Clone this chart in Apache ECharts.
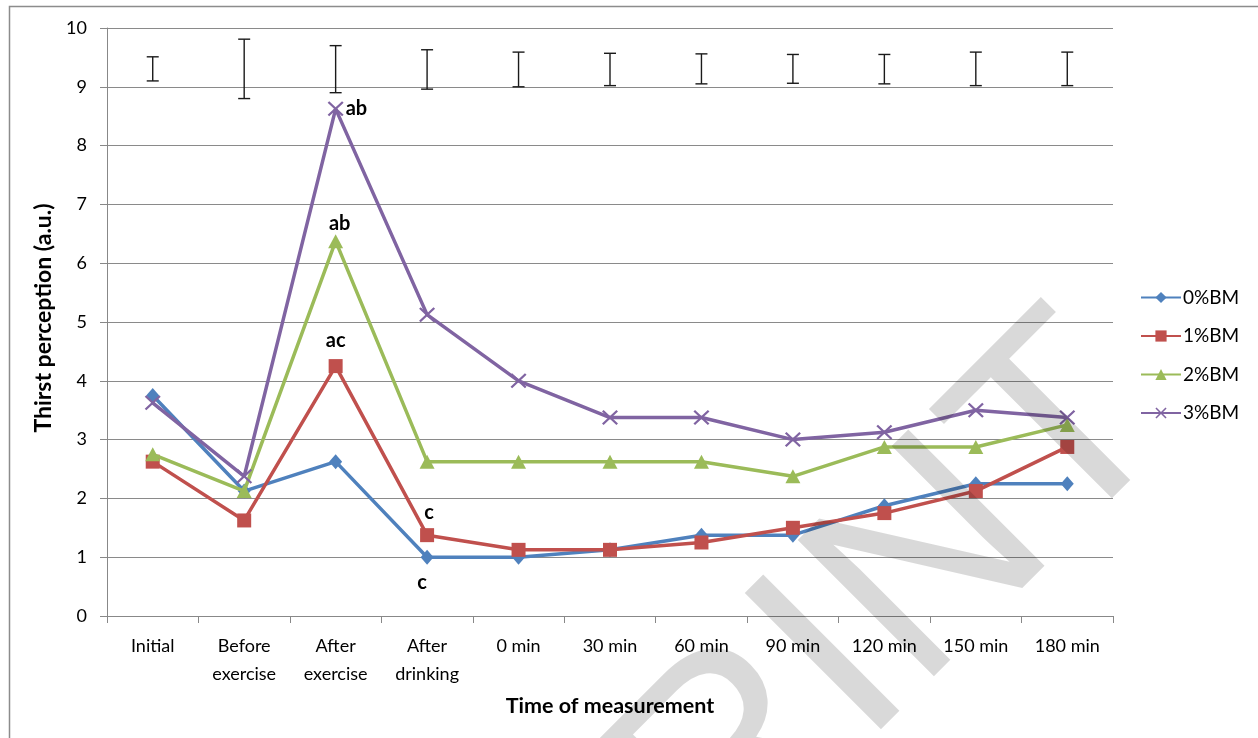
<!DOCTYPE html>
<html>
<head>
<meta charset="utf-8">
<script src="https://cdn.jsdelivr.net/npm/echarts@6/dist/echarts.min.js"></script>
<style>
html,body{margin:0;padding:0;background:#fff;}
#chart{width:1258px;height:738px;}
</style>
</head>
<body>
<div id="chart"></div>
<script>
// ---- data ----
const categories = ['Initial', 'Before\nexercise', 'After\nexercise', 'After\ndrinking', '0 min', '30 min', '60 min', '90 min', '120 min', '150 min', '180 min'];
const seriesNames = ['0%BM', '1%BM', '2%BM', '3%BM'];
const bm0 = [3.75, 2.125, 2.625, 1.0, 1.0, 1.125, 1.375, 1.375, 1.875, 2.25, 2.25];
const bm1 = [2.625, 1.625, 4.25, 1.375, 1.125, 1.125, 1.25, 1.5, 1.75, 2.125, 2.875];
const bm2 = [2.75, 2.125, 6.375, 2.625, 2.625, 2.625, 2.625, 2.375, 2.875, 2.875, 3.25];
const bm3 = [3.625, 2.375, 8.625, 5.125, 4.0, 3.375, 3.375, 3.0, 3.125, 3.5, 3.375];
const errLow  = [9.10, 8.80, 8.90, 8.96, 9.00, 9.02, 9.05, 9.06, 9.05, 9.02, 9.02];
const errHigh = [9.51, 9.81, 9.70, 9.63, 9.59, 9.57, 9.56, 9.55, 9.55, 9.59, 9.59];
// significance letters: [series index, category index, text]
const annotations = [[3, 2, 'ab'], [2, 2, 'ab'], [1, 2, 'ac'], [1, 3, 'c'], [0, 3, 'c']];
const yMin = 0, yMax = 10, yStep = 1;

// ---- styles ----
const FONT = 'Lato';
const colors = ['#4F81BD', '#C0504D', '#9BBB59', '#8064A2'];
const symbols = ['diamond', 'rect', 'triangle',
  'path://M0,1L1,0L5,4L9,0L10,1L6,5L10,9L9,10L5,6L1,10L0,9L4,5Z'];
const symbolSizes = [[13, 15], 14, [15, 14], [16, 15]];
// placement of each annotation (same order as annotations)
const annoPlace = [
  {position: 'right', distance: 2, offset: [0, 0]},
  {position: 'top', distance: 1, offset: [4, 0]},
  {position: 'top', distance: 9, offset: [0, 0]},
  {position: 'top', distance: 6, offset: [2, 0]},
  {position: 'bottom', distance: 8, offset: [-5, 0]}
];
const allValues = [bm0, bm1, bm2, bm3];

const lineSeries = allValues.map((vals, s) => ({
  name: seriesNames[s],
  type: 'line',
  data: vals.map((v, i) => {
    const k = annotations.findIndex(x => x[0] === s && x[1] === i);
    if (k < 0) return v;
    const p = annoPlace[k];
    return {value: v, label: {show: true, formatter: annotations[k][2], position: p.position, distance: p.distance, offset: p.offset,
      fontFamily: FONT, fontWeight: 'bold', fontSize: 20, color: '#000'}};
  }),
  symbol: symbols[s],
  symbolSize: symbolSizes[s],
  showSymbol: true,
  lineStyle: {color: colors[s], width: 3.5},
  itemStyle: {color: colors[s]},
  z: 3 + s,
  emphasis: {disabled: true}
}));

const errSeries = {
  name: 'err',
  type: 'custom',
  data: categories.map((c, i) => [i, errLow[i], errHigh[i]]),
  encode: {x: 0, y: [1, 2]},
  renderItem: function (params, api) {
    const x = api.value(0);
    const lo = api.coord([x, api.value(1)]);
    const hi = api.coord([x, api.value(2)]);
    const w = 6;
    const st = {stroke: '#1a1a1a', lineWidth: 1.4};
    return {type: 'group', children: [
      {type: 'line', shape: {x1: lo[0], y1: lo[1], x2: hi[0], y2: hi[1]}, style: st},
      {type: 'line', shape: {x1: hi[0] - w, y1: hi[1], x2: hi[0] + w, y2: hi[1]}, style: st},
      {type: 'line', shape: {x1: lo[0] - w, y1: lo[1], x2: lo[0] + w, y2: lo[1]}, style: st}
    ]};
  },
  z: 2,
  silent: true
};

const chart = echarts.init(document.getElementById('chart'), null, {renderer: 'canvas'});
chart.setOption({
  animation: false,
  backgroundColor: '#fff',
  textStyle: {fontFamily: FONT},
  grid: {left: 107, right: 145, top: 28, bottom: 122, containLabel: false},
  legend: {
    data: seriesNames,
    orient: 'vertical',
    left: 1140,
    top: 288,
    padding: 0,
    itemWidth: 40,
    itemHeight: 14,
    itemGap: 19.5,
    textStyle: {fontFamily: FONT, fontSize: 19, color: '#000', padding: [0, 0, 0, -3]},
    selectedMode: false
  },
  xAxis: {
    type: 'category',
    data: categories,
    boundaryGap: true,
    axisLine: {lineStyle: {color: '#888', width: 1}},
    axisTick: {show: true, length: 7, lineStyle: {color: '#888'}},
    axisLabel: {fontFamily: FONT, fontSize: 18, color: '#000', margin: 16, lineHeight: 28, interval: 0},
    name: 'Time of measurement',
    nameLocation: 'middle',
    nameGap: 79,
    nameTextStyle: {fontFamily: FONT, fontSize: 21.5, fontWeight: 'bold', color: '#000'}
  },
  yAxis: {
    type: 'value',
    min: yMin, max: yMax, interval: yStep,
    axisLine: {show: true, lineStyle: {color: '#888', width: 1}},
    axisTick: {show: true, length: 7, lineStyle: {color: '#888'}},
    axisLabel: {fontFamily: FONT, fontSize: 18, color: '#000', margin: 20},
    splitLine: {show: true, lineStyle: {color: '#8a8a8a', width: 1}},
    name: 'Thirst perception (a.u.)',
    nameLocation: 'middle',
    nameGap: 50,
    nameTextStyle: {fontFamily: FONT, fontSize: 23, fontWeight: 'bold', color: '#000', padding: [0, 0, 0, 8]}
  },
  series: [errSeries].concat(lineSeries),
  graphic: [
    {type: 'rect', left: 7, top: 4, shape: {width: 1400, height: 900}, style: {fill: 'none', stroke: '#8c8c8c', lineWidth: 1.5}, silent: true, z: 0},
    {type: 'text', x: 1127, y: 374, rotation: 45 * Math.PI / 180, z: 100, silent: true,
      style: {text: 'PREPRINT', font: 'normal 280px "Liberation Sans"', fill: 'rgba(0,0,0,0.15)', textAlign: 'right', textVerticalAlign: 'middle'}}
  ]
});
</script>
</body>
</html>
